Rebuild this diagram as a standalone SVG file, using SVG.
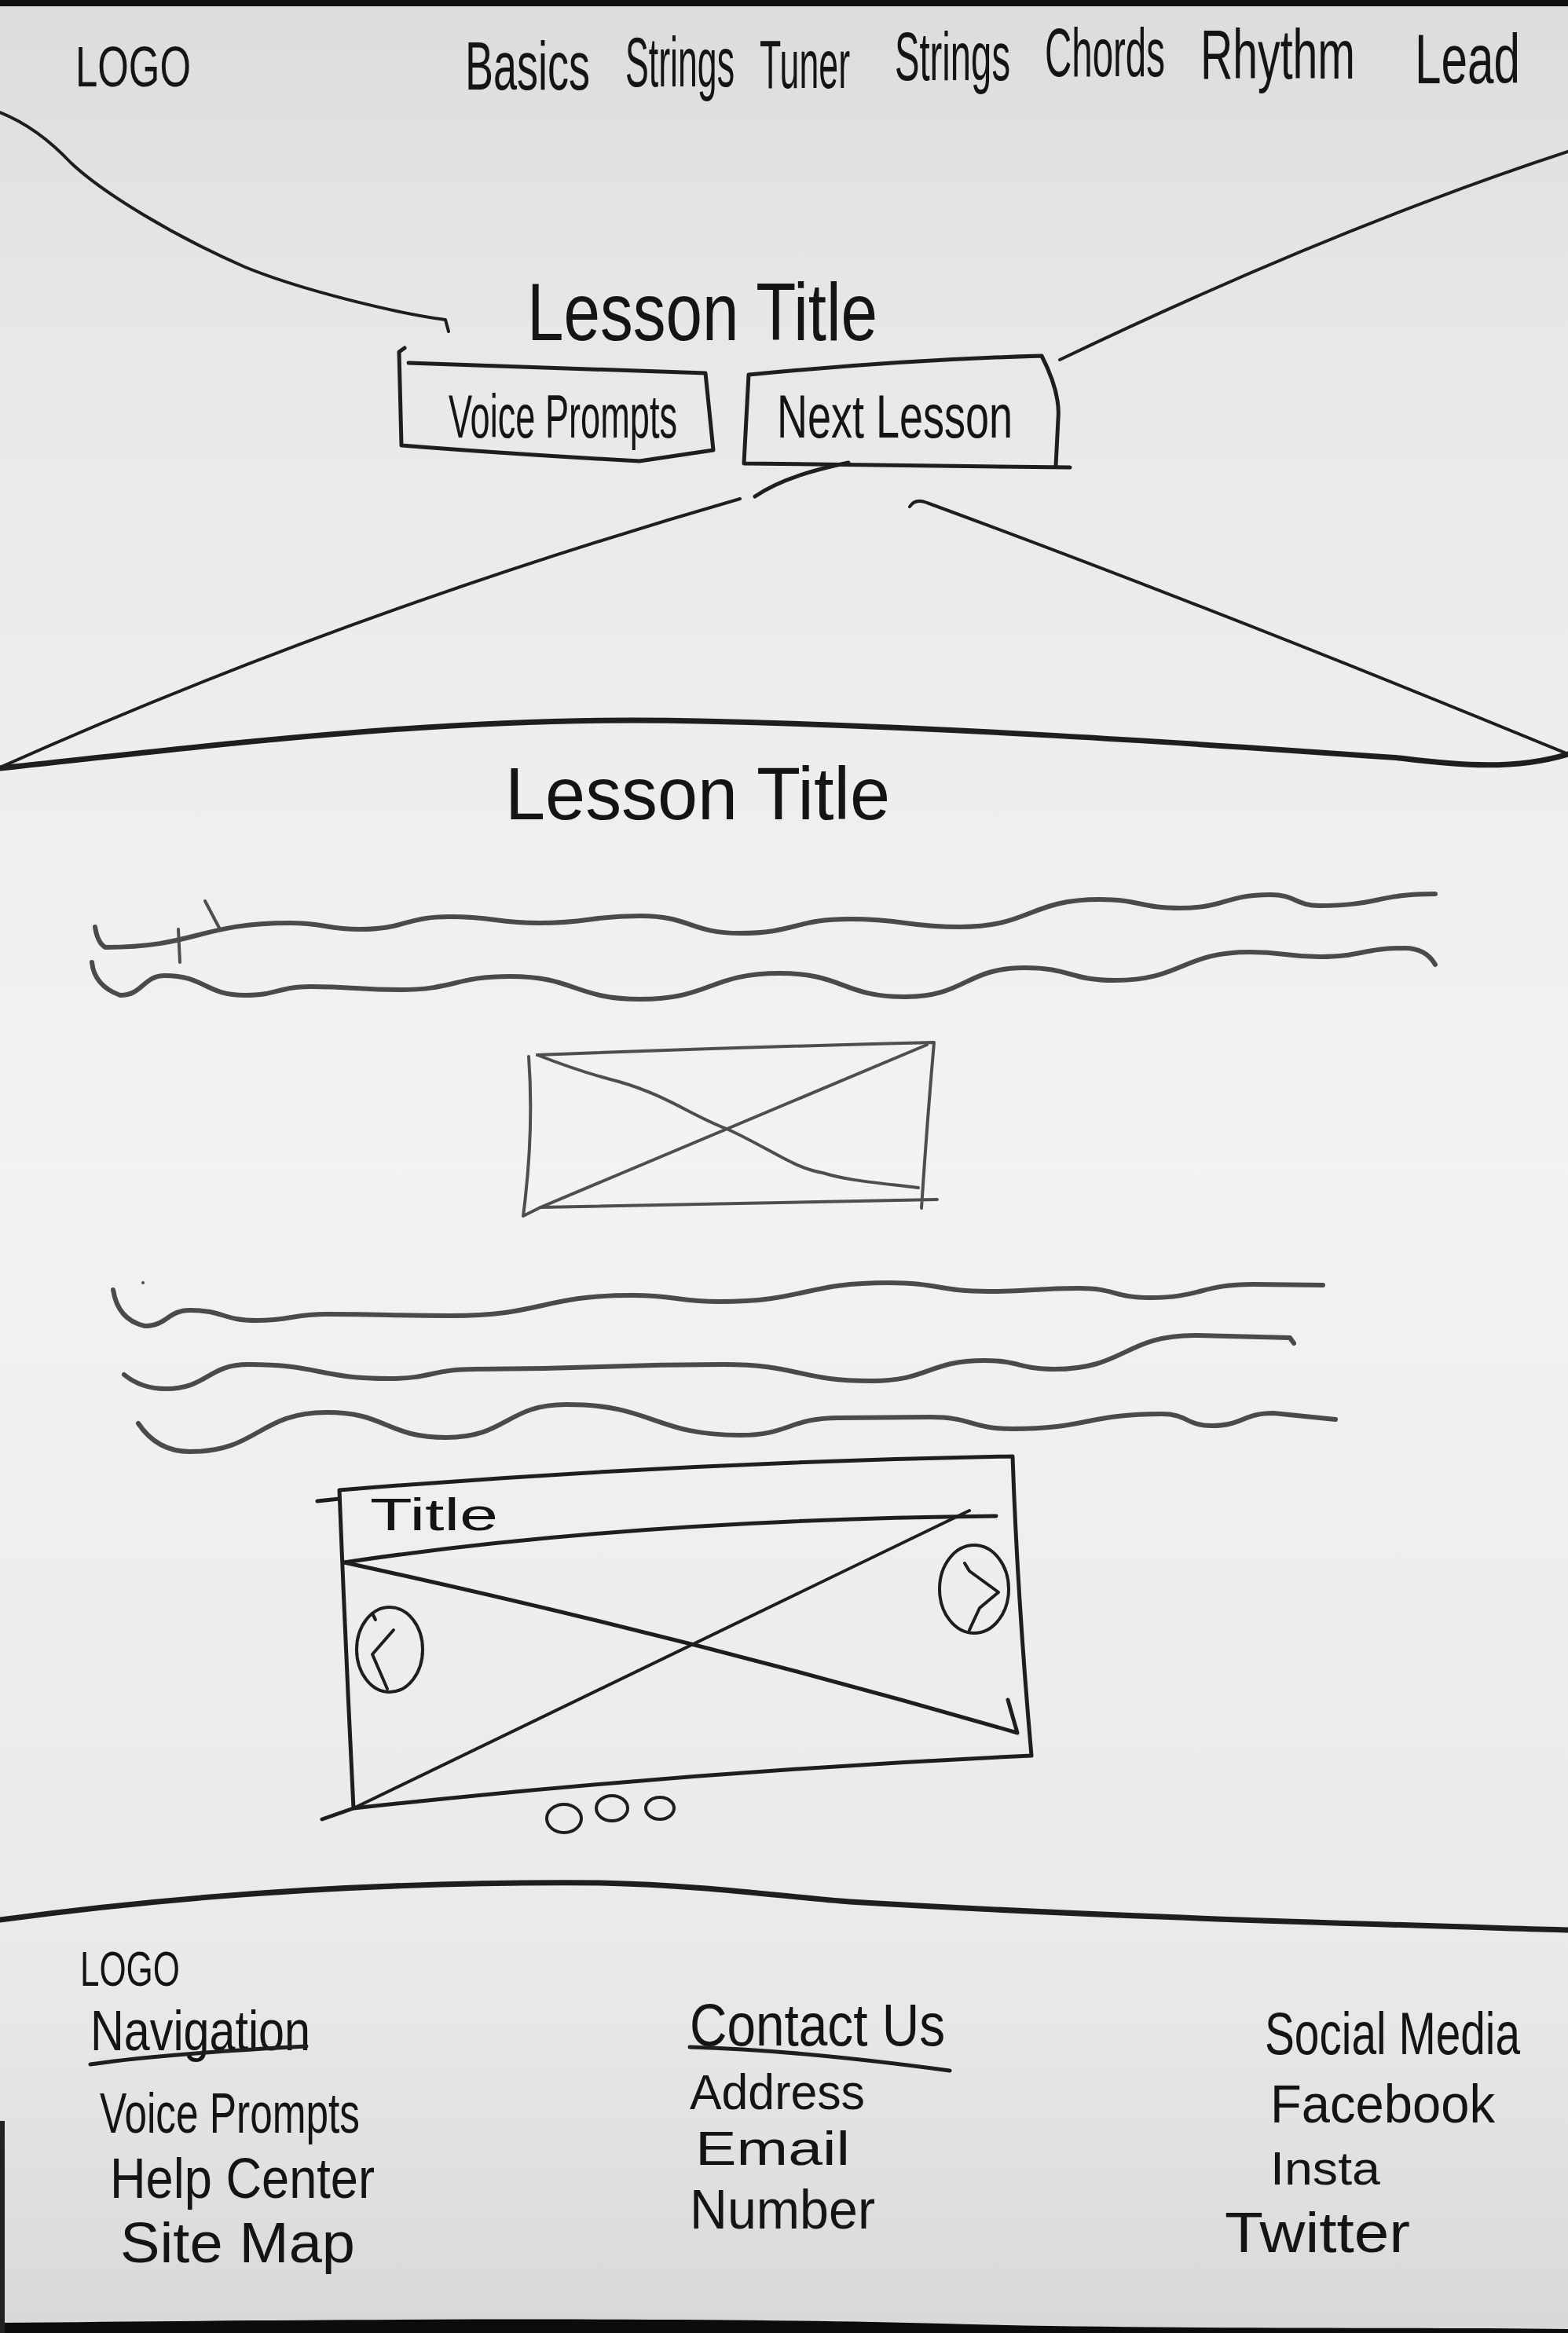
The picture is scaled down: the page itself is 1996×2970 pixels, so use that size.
<svg xmlns="http://www.w3.org/2000/svg" width="1996" height="2970" viewBox="0 0 1996 2970">
  <defs>
    <linearGradient id="paper" x1="0" y1="0" x2="0" y2="1">
      <stop offset="0" stop-color="#dcdcdc"/>
      <stop offset="0.15" stop-color="#e8e8e8"/>
      <stop offset="0.5" stop-color="#f3f3f3"/>
      <stop offset="0.85" stop-color="#e9e9e9"/>
      <stop offset="1" stop-color="#d8d8d8"/>
    </linearGradient>
  </defs>
  <style>
    .hw { font-family: "Liberation Sans", "DejaVu Sans", sans-serif; fill: #141414; }
    .ink { fill: none; stroke: #1e1e1e; stroke-linecap: round; stroke-linejoin: round; }
    .thin { stroke-width: 4; }
    .med { stroke-width: 5; }
    .thick { stroke-width: 7; }
    .wave { fill: none; stroke: #4a4a4a; stroke-width: 6; stroke-linecap: round; stroke-linejoin: round; }
    .grey { fill: none; stroke: #4e4e4e; stroke-width: 4; stroke-linecap: round; stroke-linejoin: round; }
  </style>

  <!-- paper -->
  <rect x="0" y="0" width="1996" height="2970" fill="url(#paper)"/>
  <rect x="0" y="0" width="1996" height="8" fill="#111"/>
  <path d="M0 2957 C 500 2952 900 2950 1200 2958 C 1500 2966 1800 2962 1996 2965 L1996 2970 L0 2970 Z" fill="#0c0c0c"/>
  <rect x="0" y="2700" width="6" height="270" fill="#222"/>

  <!-- header -->
  <g id="header-logo">
    <text class="hw" transform="translate(96 110) scale(1 1.41)" font-size="51" textLength="147" lengthAdjust="spacingAndGlyphs">LOGO</text>
  </g>
  <g id="header-nav">
    <text class="hw" transform="translate(592 114) scale(1 1.63)" font-size="54" textLength="159" lengthAdjust="spacingAndGlyphs">Basics</text>
    <text class="hw" transform="translate(796 110) scale(1 1.97)" font-size="44.7" textLength="139" lengthAdjust="spacingAndGlyphs">Strings</text>
    <text class="hw" transform="translate(967 112) scale(1 2.0)" font-size="44" textLength="115" lengthAdjust="spacingAndGlyphs">Tuner</text>
    <text class="hw" transform="translate(1139 102) scale(1 1.86)" font-size="47.2" textLength="147" lengthAdjust="spacingAndGlyphs">Strings</text>
    <text class="hw" transform="translate(1330 97) scale(1 1.85)" font-size="47.5" textLength="153" lengthAdjust="spacingAndGlyphs">Chords</text>
    <text class="hw" transform="translate(1528 100) scale(1 1.54)" font-size="57.2" textLength="197" lengthAdjust="spacingAndGlyphs">Rhythm</text>
    <text class="hw" transform="translate(1801 106) scale(1 1.46)" font-size="60.3" textLength="134" lengthAdjust="spacingAndGlyphs">Lead</text>
  </g>

  <!-- hero shape lines -->
  <g id="hero-lines">
    <path class="ink thin" d="M0 143 C30 155 60 175 90 207 C130 245 220 300 312 340 C380 368 500 398 567 407 L571 422"/>
    <path class="ink thin" d="M1349 458 Q 1700 290 1996 193"/>
    <path class="ink med" d="M1080 589 Q 1000 605 961 632"/>
    <path class="ink thin" d="M942 635 Q 440 780 0 977"/>
    <path class="ink thin" d="M1158 645 Q1165 634 1180 640 Q 1560 780 1996 960"/>
    <path class="ink thick" d="M0 978 C 300 945 600 910 891 918 C 1200 925 1500 945 1782 965 C 1860 975 1930 980 1996 960"/>
  </g>

  <g id="hero-title">
    <text class="hw" transform="translate(671 433) scale(1 1.26)" font-size="82.7" textLength="446" lengthAdjust="spacingAndGlyphs">Lesson Title</text>
  </g>

  <g id="btn-voice-prompts">
    <path class="ink med" d="M515 443 L508 448 L511 567 Q 650 578 814 587 L 908 573 L 898 475 Q 700 468 520 462"/>
    <text class="hw" transform="translate(571 557) scale(1 1.74)" font-size="44.8" textLength="291" lengthAdjust="spacingAndGlyphs">Voice Prompts</text>
  </g>

  <g id="btn-next-lesson">
    <path class="ink med" d="M953 477 L 950 533 L 947 590 L 1362 595 M953 477 Q 1150 458 1326 453 Q 1350 500 1347 533 L 1344 593"/>
    <text class="hw" transform="translate(989 557) scale(1 1.44)" font-size="54" textLength="300" lengthAdjust="spacingAndGlyphs">Next Lesson</text>
  </g>

  <!-- content -->
  <g id="content-title">
    <text class="hw" transform="translate(643 1043) scale(1 1.03)" font-size="90.9" fill="#2e2e2e" textLength="490" lengthAdjust="spacingAndGlyphs">Lesson Title</text>
  </g>

  <g id="paragraph-1">
    <path class="wave" d="M121 1180 Q124 1200 134 1206 C 250 1206 253 1175 369 1175 C 414 1175 414 1183 458 1183 C 516 1183 516 1167 573 1167 C 630 1167 630 1175 687 1175 C 751 1175 751 1166 815 1166 C 879 1166 879 1188 942 1188 C 1012 1188 1012 1170 1082 1170 C 1152 1170 1152 1180 1222 1180 C 1311 1180 1311 1145 1400 1145 C 1451 1145 1451 1156 1502 1156 C 1560 1156 1560 1139 1617 1139 C 1649 1139 1649 1153 1680 1153 C 1754 1153 1754 1138 1827 1138"/>
    <path class="wave" d="M117 1225 Q120 1255 153 1267 C 182 1267 182 1242 210 1242 C 261 1242 261 1267 312 1267 C 354 1267 354 1256 395 1256 C 452 1256 452 1260 509 1260 C 579 1260 579 1243 649 1243 C 732 1243 732 1272 815 1272 C 904 1272 904 1239 993 1239 C 1073 1239 1073 1269 1152 1269 C 1229 1269 1229 1232 1305 1232 C 1362 1232 1362 1248 1419 1248 C 1505 1248 1505 1212 1591 1212 C 1636 1212 1636 1218 1680 1218 C 1734 1218 1734 1207 1788 1207 Q 1815 1207 1827 1228"/>
    <path class="grey" d="M261 1147 L280 1183 M227 1183 L229 1225" stroke-width="3"/>
  </g>

  <g id="image-placeholder">
    <path class="grey" d="M684 1343 Q 940 1333 1189 1327 Q 1180 1430 1173 1538 M673 1345 Q 680 1440 666 1548 L 688 1537 Q 940 1533 1193 1527"/>
    <path class="grey" d="M684 1343 Q 740 1365 788 1377 C 850 1395 880 1420 925 1437 C 980 1462 1010 1487 1047 1493 C 1080 1503 1110 1505 1169 1512"/>
    <path class="grey" d="M688 1537 L 1180 1330"/>
  </g>

  <g id="paragraph-2">
    <path class="wave" d="M144 1642 Q150 1680 184 1688 C 213 1688 213 1668 242 1668 C 284 1668 284 1681 326 1681 C 371 1681 371 1673 416 1673 C 495 1673 495 1675 574 1675 C 690 1675 690 1649 805 1649 C 861 1649 861 1657 916 1657 C 1024 1657 1024 1633 1131 1633 C 1195 1633 1195 1644 1258 1644 C 1316 1644 1316 1640 1374 1640 C 1419 1640 1419 1652 1463 1652 C 1529 1652 1529 1635 1595 1635 L 1684 1636"/>
    <path class="wave" d="M158 1750 Q180 1768 211 1768 C 264 1768 264 1737 316 1737 C 406 1737 406 1755 495 1755 C 550 1755 550 1743 605 1743 C 763 1743 763 1737 921 1737 C 1016 1737 1016 1758 1110 1758 C 1182 1758 1182 1732 1253 1732 C 1298 1732 1298 1743 1342 1743 C 1432 1743 1432 1700 1521 1700 L 1642 1703 L 1647 1710"/>
    <path class="wave" d="M176 1812 Q200 1848 242 1848 C 329 1848 329 1798 416 1798 C 492 1798 492 1830 568 1830 C 645 1830 645 1788 721 1788 C 832 1788 832 1827 942 1827 C 1005 1827 1005 1805 1068 1805 L 1184 1804 C 1237 1804 1237 1819 1289 1819 C 1384 1819 1384 1800 1479 1800 C 1511 1800 1511 1815 1542 1815 C 1582 1815 1582 1799 1621 1799 L 1700 1807"/>
    <circle cx="182" cy="1633" r="2" fill="#4a4a4a"/>
  </g>

  <g id="carousel">
    <path class="ink med" d="M404 1911 L432 1908 M432 1897 Q 860 1862 1289 1854 Q 1295 2030 1313 2235 Q 880 2255 450 2302 L 410 2316 M432 1897 Q 440 2100 450 2302"/>
    <path class="ink med" d="M438 1989 Q 800 1935 1268 1930"/>
    <path class="ink med" d="M438 1989 Q 880 2085 1295 2206 M1283 2164 L1295 2206"/>
    <path class="ink thin" d="M450 2302 L 1234 1923"/>
    <text class="hw" x="471" y="1948" font-size="58" textLength="163" lengthAdjust="spacingAndGlyphs">Title</text>
    <ellipse class="ink thin" cx="496" cy="2100" rx="42" ry="54"/>
    <path class="ink thin" d="M474 2054 L478 2062 M501 2075 L474 2106 L493 2150"/>
    <ellipse class="ink thin" cx="1240" cy="2023" rx="44" ry="56"/>
    <path class="ink thin" d="M1228 1990 L1234 2000 L1271 2027 L1247 2047 L1234 2075"/>
    <ellipse class="ink thin" cx="718" cy="2315" rx="22" ry="18"/>
    <ellipse class="ink thin" cx="779" cy="2302" rx="20" ry="16"/>
    <ellipse class="ink thin" cx="840" cy="2302" rx="18" ry="14"/>
  </g>

  <!-- footer -->
  <g id="footer-divider">
    <path class="ink thick" d="M0 2444 C 250 2410 500 2395 764 2397 C 900 2400 1000 2415 1082 2421 C 1400 2440 1700 2448 1996 2457"/>
  </g>

  <g id="footer-col-1">
    <text class="hw" transform="translate(102 2528) scale(1 1.41)" font-size="44" textLength="127" lengthAdjust="spacingAndGlyphs">LOGO</text>
    <text class="hw" transform="translate(115 2610) scale(1 1.22)" font-size="59.3" textLength="280" lengthAdjust="spacingAndGlyphs">Navigation</text>
    <path class="ink med" d="M115 2628 Q 200 2615 390 2605"/>
    <text class="hw" transform="translate(127 2715) scale(1 1.42)" font-size="50.9" textLength="331" lengthAdjust="spacingAndGlyphs">Voice Prompts</text>
    <text class="hw" transform="translate(140 2798) scale(1 1.14)" font-size="63.2" textLength="337" lengthAdjust="spacingAndGlyphs">Help Center</text>
    <text class="hw" x="153" y="2880" font-size="72" textLength="299" lengthAdjust="spacingAndGlyphs">Site Map</text>
  </g>

  <g id="footer-col-2">
    <text class="hw" transform="translate(878 2604) scale(1 1.16)" font-size="65.7" textLength="325" lengthAdjust="spacingAndGlyphs">Contact Us</text>
    <path class="ink med" d="M878 2606 Q 1018 2610 1209 2636"/>
    <text class="hw" transform="translate(878 2685) scale(1 1.03)" font-size="60.8" textLength="223" lengthAdjust="spacingAndGlyphs">Address</text>
    <text class="hw" x="885" y="2756" font-size="62" textLength="197" lengthAdjust="spacingAndGlyphs">Email</text>
    <text class="hw" transform="translate(878 2837) scale(1 1.06)" font-size="66.4" textLength="236" lengthAdjust="spacingAndGlyphs">Number</text>
  </g>

  <g id="footer-col-3">
    <text class="hw" transform="translate(1610 2615) scale(1 1.34)" font-size="56.8" textLength="325" lengthAdjust="spacingAndGlyphs">Social Media</text>
    <text class="hw" transform="translate(1617 2702) scale(1 1.05)" font-size="65.1" textLength="286" lengthAdjust="spacingAndGlyphs">Facebook</text>
    <text class="hw" x="1617" y="2781" font-size="60" textLength="140" lengthAdjust="spacingAndGlyphs">Insta</text>
    <text class="hw" x="1559" y="2867" font-size="72" textLength="236" lengthAdjust="spacingAndGlyphs">Twitter</text>
  </g>
</svg>
